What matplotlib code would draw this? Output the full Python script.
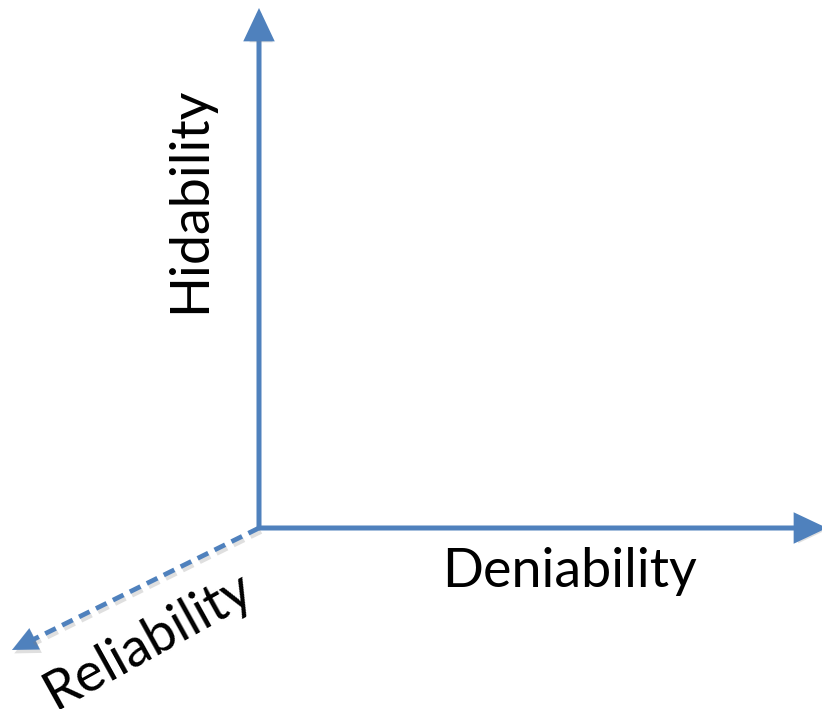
import matplotlib
matplotlib.use("Agg")
import matplotlib.pyplot as plt
from matplotlib.patches import FancyArrowPatch
import matplotlib.patheffects as pe

# Diagram content
axis_labels = ["Hidability", "Deniability", "Reliability"]

BLUE = "#4F81BD"
W, H = 822, 709

fig = plt.figure(figsize=(W / 100, H / 100), dpi=100)
ax = fig.add_axes([0, 0, 1, 1])
ax.set_xlim(0, W)
ax.set_ylim(H, 0)
ax.axis("off")

origin = (259, 528)
shadow = [pe.SimplePatchShadow(offset=(1.5, -2.5), alpha=0.25, shadow_rgbFace="gray"), pe.Normal()]
line_shadow = [pe.SimpleLineShadow(offset=(1.5, -2.5), alpha=0.25, shadow_color="gray"), pe.Normal()]

STYLE = "-|>,head_length=18,head_width=8.5"


def arrow(start, end):
    p = FancyArrowPatch(start, end, arrowstyle=STYLE,
                        mutation_scale=1, lw=3.6, color=BLUE, shrinkA=0, shrinkB=0,
                        joinstyle="miter", capstyle="butt")
    p.set_path_effects(shadow)
    ax.add_patch(p)


arrow(origin, (259, 8))
arrow(origin, (827, 528))

# dashed arrow: dashed shaft + solid head
tip = (12, 650)
dx, dy = tip[0] - origin[0], tip[1] - origin[1]
L = (dx ** 2 + dy ** 2) ** 0.5
ux, uy = dx / L, dy / L
base = (tip[0] - ux * 22, tip[1] - uy * 22)
ln, = ax.plot([origin[0], base[0]], [origin[1], base[1]], color=BLUE, lw=3.4,
              linestyle=(0, (2.5, 1.5)), solid_capstyle="butt", dash_capstyle="butt")
ln.set_path_effects(line_shadow)
head = FancyArrowPatch((tip[0] - ux * 26, tip[1] - uy * 26), tip, arrowstyle=STYLE,
                       mutation_scale=1, lw=0.1, color=BLUE, shrinkA=0, shrinkB=0)
head.set_path_effects(shadow)
ax.add_patch(head)

font = "Lato"
fs = 38.8
ax.text(190, 200, axis_labels[0], rotation=90, ha="center", va="center",
        fontsize=fs, family=font, color="black")
ax.text(569, 572, axis_labels[1], ha="center", va="center",
        fontsize=fs, family=font, color="black")
ax.text(148, 641, axis_labels[2], rotation=29, ha="center", va="center",
        fontsize=fs, family=font, color="black", rotation_mode="anchor")

fig.savefig("out.png", dpi=100)
